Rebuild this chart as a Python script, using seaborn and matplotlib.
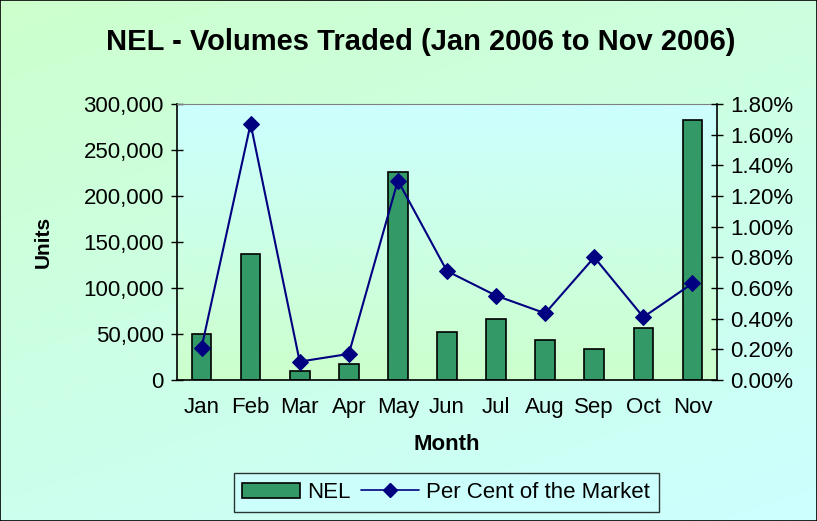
import numpy as np
import pandas as pd
import seaborn as sns
import matplotlib.pyplot as plt
from matplotlib.ticker import FuncFormatter, MultipleLocator
from matplotlib.patches import Patch
from matplotlib.lines import Line2D

months = ["Jan", "Feb", "Mar", "Apr", "May", "Jun", "Jul", "Aug", "Sep", "Oct", "Nov"]
volumes = [50500, 136500, 10000, 17000, 226000, 52000, 66000, 44000, 34000, 56000, 283000]
market_pct = [0.21, 1.67, 0.12, 0.17, 1.30, 0.71, 0.55, 0.435, 0.80, 0.41, 0.63]

sns.set_style("white")
plt.rcParams["font.family"] = ["Liberation Sans", "DejaVu Sans"]
plt.rcParams.update({"text.color": "black", "axes.labelcolor": "black",
                     "xtick.color": "black", "ytick.color": "black"})

df = pd.DataFrame({"Month": months, "Units": volumes, "Pct": market_pct,
                   "pos": np.arange(len(months))})

fig = plt.figure(figsize=(8.17, 5.21), dpi=100)

# figure background gradient (green top-left -> cyan bottom-right)
bg = fig.add_axes([0, 0, 1, 1], zorder=-2)
green = np.array([0.80, 1.0, 0.80])
cyan = np.array([0.80, 1.0, 1.0])
yy, xx = np.mgrid[0:1:200j, 0:1:200j]
t = np.clip(0.65 * yy + 0.35 * xx, 0, 1)[..., None]
bg.imshow(green * (1 - t) + cyan * t, extent=[0, 1, 0, 1], aspect="auto")
bg.set_xticks([])
bg.set_yticks([])
for s in bg.spines.values():
    s.set_color("black")
    s.set_linewidth(1.2)

rect = [0.2166, 0.2706, 0.661, 0.53]

# plot area gradient (cyan top -> green bottom)
pa = fig.add_axes(rect, zorder=-1)
t2 = np.linspace(0, 1, 200)[:, None, None]
pa.imshow(cyan * (1 - t2) + green * t2, extent=[0, 1, 0, 1], aspect="auto")
pa.axis("off")

ax = fig.add_axes(rect)
ax.set_facecolor("none")
sns.barplot(data=df, x="Month", y="Units", color="#339966", edgecolor="black",
            linewidth=1.2, width=0.4, saturation=1, ax=ax)
ax.set_ylim(0, 300000)
ax.set_xlim(-0.5, len(months) - 0.5)
ax.yaxis.set_major_locator(MultipleLocator(50000))
ax.yaxis.set_major_formatter(FuncFormatter(lambda v, p: f"{int(v):,}"))
ax.set_xticks(np.arange(len(months)))
ax.set_xticklabels(months)
ax.set_xticks(np.arange(-0.5, len(months), 1), minor=True)
ax.tick_params(axis="x", which="major", length=0, labelsize=16, pad=12)
ax.tick_params(axis="x", which="minor", length=8, width=1, direction="out", color="black")
ax.tick_params(axis="y", length=9, width=1, direction="inout", labelsize=16, color="black", pad=5)
ax.set_xlabel("Month", fontsize=16, fontweight="bold", labelpad=12)
ax.set_ylabel("Units", fontsize=15, fontweight="bold", labelpad=22)
for side in ["left", "bottom"]:
    ax.spines[side].set_color("black")
    ax.spines[side].set_linewidth(1.2)
ax.spines["top"].set_color("#808080")
ax.spines["right"].set_visible(False)

ax2 = ax.twinx()
sns.lineplot(data=df, x="pos", y="Pct", color="#000080", marker="D", markersize=8,
             markeredgecolor="#000080", linewidth=1.5, sort=False, ax=ax2)
ax2.set_ylim(0, 1.8)
ax2.yaxis.set_major_locator(MultipleLocator(0.2))
ax2.yaxis.set_major_formatter(FuncFormatter(lambda v, p: f"{v:.2f}%"))
ax2.tick_params(axis="y", length=9, width=1, direction="inout", labelsize=16, color="black", pad=5)
ax2.set_ylabel("")
ax2.set_xlabel("")
ax2.spines["right"].set_color("black")
ax2.spines["right"].set_linewidth(1.2)
ax2.spines["top"].set_visible(False)
ax2.spines["left"].set_visible(False)
ax2.spines["bottom"].set_visible(False)
ax2.set_xlim(-0.5, len(months) - 0.5)

fig.text(0.515, 1 - 42 / 521, "NEL - Volumes Traded (Jan 2006 to Nov 2006)",
         fontsize=21, fontweight="bold", ha="center", va="center")

handles = [Patch(facecolor="#339966", edgecolor="black", linewidth=1.2),
           Line2D([0], [0], color="#000080", marker="D", markersize=7, linewidth=1.2)]
leg = fig.legend(handles, ["NEL", "Per Cent of the Market"], loc="lower center",
                 bbox_to_anchor=(0.546, -0.004), ncol=2, fontsize=16, frameon=True,
                 fancybox=False, handlelength=2.6, columnspacing=0.5, handletextpad=0.3,
                 borderpad=0.4)
leg.get_frame().set_edgecolor("black")
leg.get_frame().set_facecolor("#CCFFFF")
leg.get_frame().set_linewidth(1.0)

fig.savefig("out.png", dpi=100)
